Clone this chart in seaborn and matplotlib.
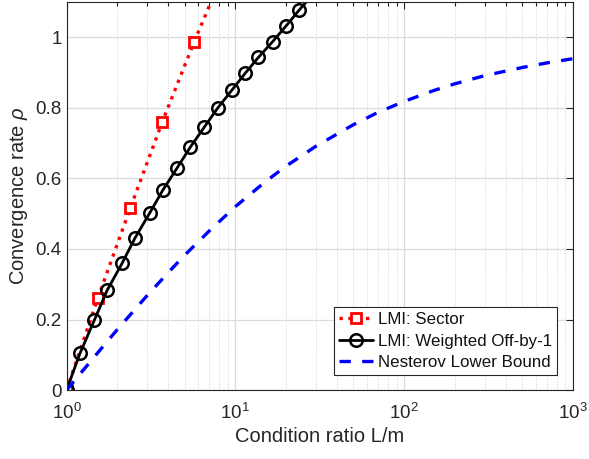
import matplotlib
matplotlib.use("Agg")
import matplotlib.pyplot as plt
import seaborn as sns
import pandas as pd
import numpy as np
from matplotlib.ticker import LogLocator, NullFormatter

sns.set_theme(style="white")
plt.rcParams['font.family'] = ['Liberation Sans', 'DejaVu Sans']
plt.rcParams['mathtext.fontset'] = 'custom'
plt.rcParams['mathtext.rm'] = 'Liberation Sans'
plt.rcParams['mathtext.it'] = 'Liberation Sans:italic'

# LMI: Sector
sector_x = [1.0, 1.53, 2.39, 3.69, 5.70, 8.80]
sector_y = [0.0, 0.26, 0.517, 0.76, 0.987, 1.20]

# LMI: Weighted Off-by-1
weighted_x = [1.0, 1.20, 1.46, 1.74, 2.13, 2.55, 3.11, 3.71, 4.51, 5.40, 6.54,
              7.85, 9.50, 11.4, 13.7, 16.6, 19.9, 23.8, 28.6]
weighted_y = [0.0, 0.104, 0.198, 0.283, 0.359, 0.432, 0.502, 0.566, 0.629, 0.688,
              0.745, 0.799, 0.849, 0.897, 0.943, 0.987, 1.031, 1.076, 1.12]

# Nesterov Lower Bound
nest_x = [1, 1.5, 2, 3, 4, 5, 7, 10, 15, 20, 30, 50, 70, 100, 150, 200, 300, 500, 700, 1000]
nest_y = [0.0, 0.101, 0.172, 0.268, 0.333, 0.382, 0.451, 0.520, 0.590, 0.635, 0.691,
          0.752, 0.787, 0.818, 0.849, 0.868, 0.891, 0.914, 0.927, 0.939]

labels = ["LMI: Sector", "LMI: Weighted Off-by-1", "Nesterov Lower Bound"]

fig = plt.figure(figsize=(5.89, 4.59), dpi=100)
ax = fig.add_axes([0.113, 0.150, 0.860, 0.846])

txt = '#262626'

sns.lineplot(x=sector_x, y=sector_y, ax=ax, color='red', linestyle=':', linewidth=2.4,
             marker='s', markersize=6.5, markeredgewidth=2.0, markerfacecolor='white',
             markeredgecolor='red', label=labels[0], sort=False, estimator=None)
sns.lineplot(x=weighted_x, y=weighted_y, ax=ax, color='black', linestyle='-', linewidth=2.0,
             marker='o', markersize=9, markeredgewidth=1.8, markerfacecolor='none',
             markeredgecolor='black', label=labels[1], sort=False, estimator=None)
sns.lineplot(x=nest_x, y=nest_y, ax=ax, color='blue', linewidth=2.4,
             label=labels[2], sort=False, estimator=None)
ax.lines[-1].set_dashes([3.4, 3.4])

ax.set_xscale('log')
ax.set_xlim(1, 1000)
ax.set_ylim(0, 1.1)
ax.set_yticks([0, 0.2, 0.4, 0.6, 0.8, 1.0])
ax.set_yticklabels(['0', '0.2', '0.4', '0.6', '0.8', '1'])
ax.xaxis.set_minor_locator(LogLocator(base=10, subs=np.arange(2, 10), numticks=20))
ax.xaxis.set_minor_formatter(NullFormatter())

ax.grid(True, which='major', color='#dcdcdc', linewidth=0.9, linestyle='-')
ax.grid(True, which='minor', axis='x', color='#d0d0d0', linewidth=0.7, linestyle=':')
ax.set_axisbelow(True)

for s in ax.spines.values():
    s.set_color('#262626')
    s.set_linewidth(0.8)
ax.tick_params(which='both', direction='in', top=True, right=True, colors=txt,
               labelsize=13.5, length=5, width=0.8)
ax.tick_params(which='minor', length=3)
ax.tick_params(axis='x', pad=9)

ax.set_xlabel('Condition ratio L/m', fontsize=14.5, color=txt, labelpad=3)
ax.set_ylabel(r'Convergence rate $\rho$', fontsize=14.5, color=txt, labelpad=4)

leg = ax.legend(loc='lower right', bbox_to_anchor=(0.968, 0.038), fontsize=12.2,
                frameon=True, fancybox=False, framealpha=1, edgecolor='#262626',
                handlelength=2.0, handletextpad=0.3, borderpad=0.3, labelspacing=0.4,
                borderaxespad=0)
leg.get_frame().set_linewidth(0.8)
for t in leg.get_texts():
    t.set_color('#111111')

fig.savefig('out.png', dpi=100)
